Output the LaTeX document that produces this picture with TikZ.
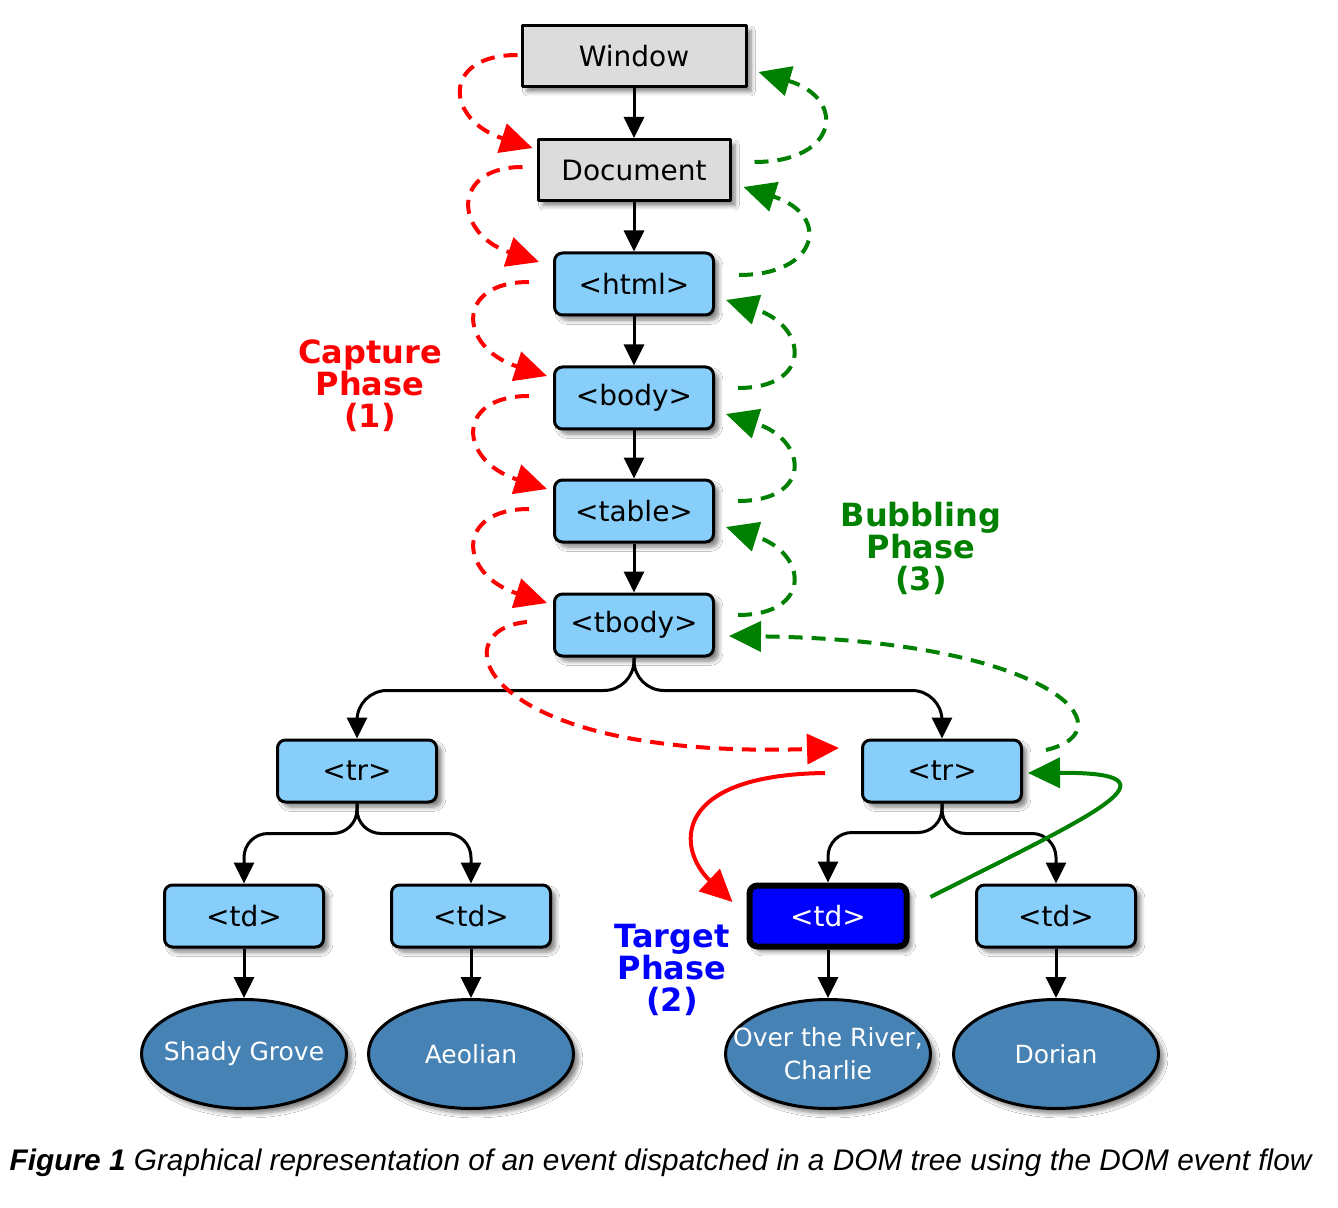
\documentclass[tikz,border=0pt]{standalone}
\usepackage{fontspec}
\setmainfont{DejaVu Sans}
\newfontfamily\capfont{Liberation Sans}
\usetikzlibrary{arrows.meta,shapes.geometric,shadows.blur}
\definecolor{boxblue}{HTML}{87CEFA}
\definecolor{boxgray}{HTML}{DCDCDC}
\definecolor{leafblue}{HTML}{4682B4}
\definecolor{bubgreen}{HTML}{008000}
\begin{document}
\begin{tikzpicture}[x=0.5pt,y=-0.5pt,>={Triangle[length=10.5pt,width=10pt]},line join=round,font=\fontsize{14}{16}\selectfont]
\tikzset{every node/.style={inner sep=0pt},
  dropshade/.style={blur shadow={shadow xshift=2.5pt,shadow yshift=-2.5pt,shadow blur steps=6,shadow opacity=50}},
  grayel/.style={draw,line width=1.5pt,fill=boxgray,minimum height=30.5pt,dropshade},
  tagel/.style={draw,line width=1.5pt,fill=boxblue,rounded corners=4pt,minimum width=79.5pt,minimum height=31pt,dropshade},
  target/.style={draw,line width=3pt,fill=blue,text=white,rounded corners=4pt,minimum width=78.5pt,minimum height=30.5pt,dropshade},
  leaf/.style={ellipse,draw,line width=1.5pt,fill=leafblue,text=white,inner xsep=-25pt,minimum width=102.5pt,minimum height=54.5pt,align=center,font=\fontsize{12.5}{16.5}\selectfont,dropshade},
  edge/.style={->,line width=1.5pt},
  capture/.style={-{Triangle[length=16pt,width=15pt]},red,line width=2pt,dash pattern=on 7pt off 4.5pt},
  bubble/.style={capture,bubgreen},
  phase/.style={font=\fontsize{16}{16}\selectfont\bfseries,align=center}}
\useasboundingbox[fill=white] (0,0) rectangle (1338,1208);
% the DOM tree
\node[grayel,minimum width=112pt] (win) at (634,56) {Window};
\node[grayel,minimum width=96pt] (doc) at (634,170) {Document};
\node[tagel] (html) at (634,284) {<html>};
\node[tagel] (body) at (634,398) {<body>};
\node[tagel] (table) at (634,511) {<table>};
\node[tagel] (tbody) at (634,625) {<tbody>};
\node[tagel] (trl) at (357,771) {<tr>};
\node[tagel] (trr) at (942,771) {<tr>};
\node[tagel] (tda) at (244,916) {<td>};
\node[tagel] (tdb) at (471,916) {<td>};
\node[target] (tdc) at (828,916) {<td>};
\node[tagel] (tdd) at (1056,916) {<td>};
\node[leaf] (la) at (244,1054) {Shady Grove};
\node[leaf] (lb) at (471,1054) {Aeolian};
\node[leaf] (lc) at (828,1054) {Over the River,\\Charlie};
\node[leaf] (ld) at (1056,1054) {Dorian};
\foreach \a/\b in {win/doc,doc/html,html/body,body/table,table/tbody,tda/la,tdb/lb,tdc/lc,tdd/ld}
  \draw[edge] (\a) -- (\b);
\foreach \a/\b in {tbody/trl,tbody/trr}
  \draw[edge,rounded corners=15pt] (\a.south) |- ([yshift=24pt]\b.north) -- (\b.north);
\foreach \a/\b in {trl/tda,trl/tdb,trr/tdc,trr/tdd}
  \draw[edge,rounded corners=12pt] (\a.south) |- ([yshift=25pt]\b.north) -- (\b.north);
% capture phase
\draw[capture] ([shift={(-3,-1)}]win.west) .. controls +(-77,0) and +(-87,-28) .. ([shift={(-4,-22)}]doc.west);
\draw[capture] ([shift={(-14,-3)}]doc.west) .. controls +(-72,0) and +(-85,-28) .. ([shift={(-14,-22)}]html.west);
\foreach \a/\b in {html/body,body/table,table/tbody}
  \draw[capture] ([shift={(-24,-2)}]\a.west) .. controls +(-75,0) and +(-88,-28) .. ([shift={(-6,-22)}]\b.west);
\draw[capture] ([shift={(-26,-3)}]tbody.west) .. controls +(-88,8) and +(-360,12) .. ([shift={(-22,-23)}]trr.west);
% target phase
\draw[capture,solid] ([shift={(-36,2)}]trr.west) .. controls +(-156,2) and +(-55,-52) .. ([shift={(-14,-14)}]tdc.west);
\draw[bubble,solid] ([shift={(21,-19)}]tdc.east) .. controls +(162,-82) and +(163,-1) .. ([shift={(5,2)}]trr.east);
% bubbling phase
\draw[bubble] ([shift={(23,-8)}]doc.east) .. controls +(85,0) and +(88,26) .. ([shift={(11,16)}]win.east);
\draw[bubble] ([shift={(24,-9)}]html.east) .. controls +(80,0) and +(88,28) .. ([shift={(12,17)}]doc.east);
\foreach \a/\b in {body/html,table/body,tbody/table}
  \draw[bubble] ([shift={(23,-10)}]\a.east) .. controls +(75,0) and +(82,26) .. ([shift={(11,16)}]\b.east);
\draw[bubble] ([shift={(23,-21)}]trr.east) .. controls +(85,-20) and +(322,4) .. ([shift={(14,11)}]tbody.east);
% labels
\node[phase,text=red] (caplabel) at (370,386) {Capture\\Phase\\(1)};
\node[phase,text=bubgreen] (bublabel) at (921,548) {Bubbling\\Phase\\(3)};
\node[phase,text=blue] (tarlabel) at (672,970) {Target\\Phase\\(2)};
\node[anchor=base east,font=\capfont\fontsize{14.9}{18}\selectfont\itshape] (caption) at (1312,1170)
  {\bfseries Figure 1 \mdseries Graphical representation of an event dispatched in a DOM tree using the DOM event flow};
\end{tikzpicture}
\end{document}
